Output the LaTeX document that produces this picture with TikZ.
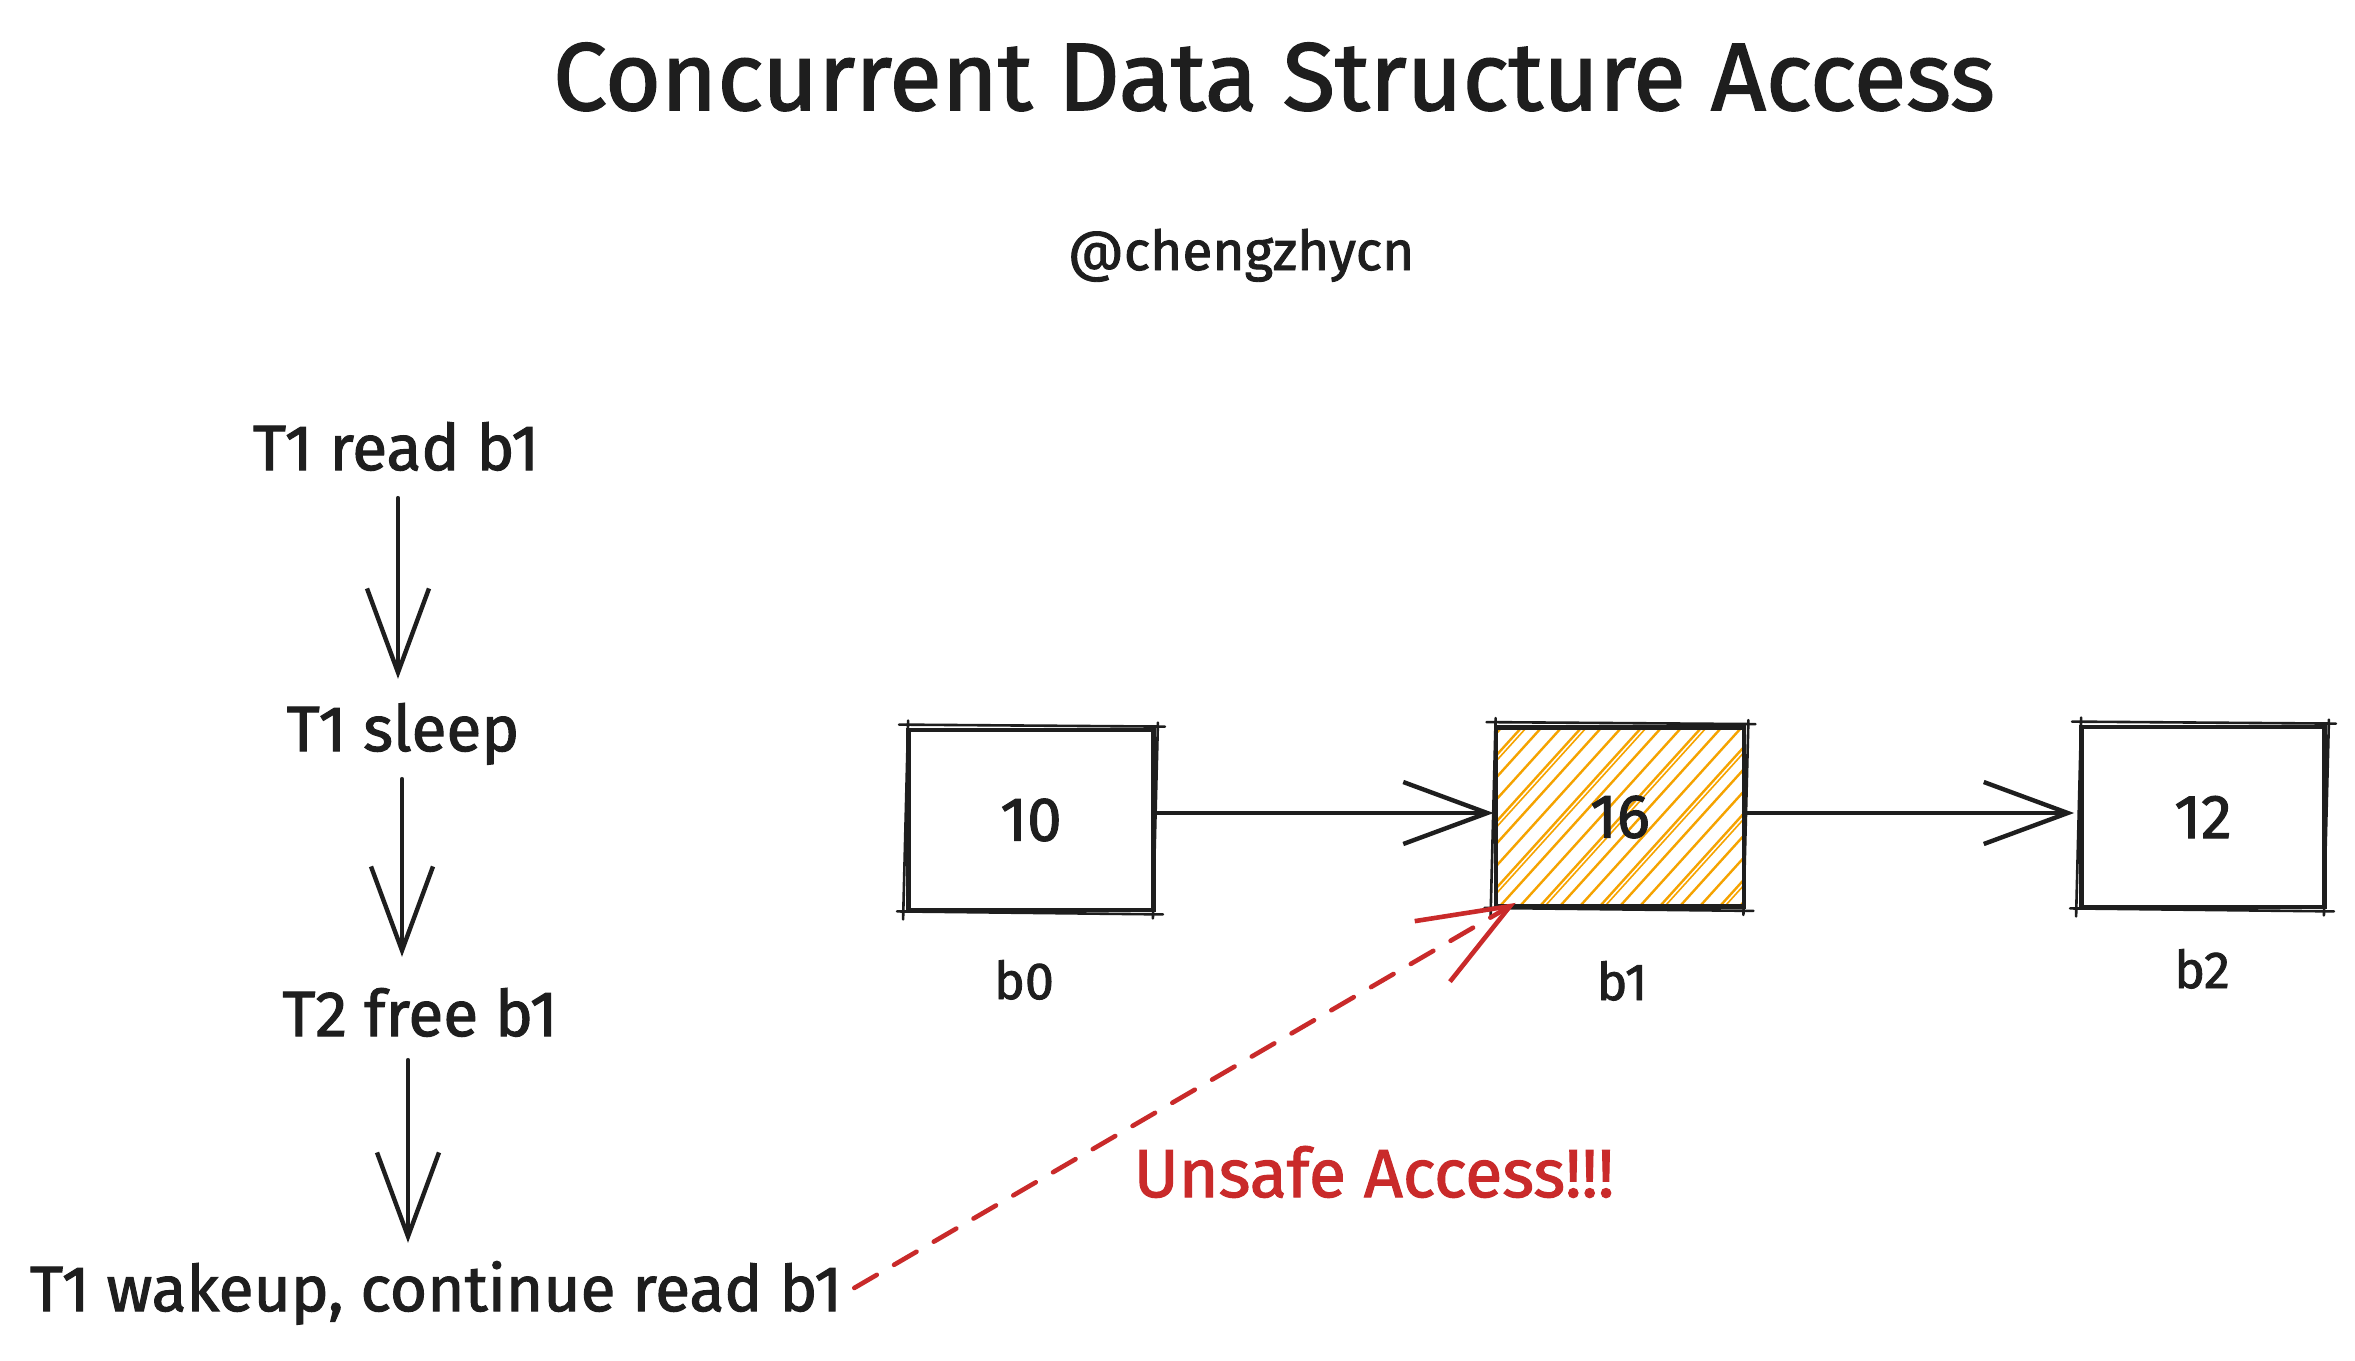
\documentclass[tikz,border=0pt]{standalone}
\usepackage{fontspec}
\setmainfont{Fira Sans}[FakeBold=1.6]
\usetikzlibrary{arrows.meta}
\definecolor{ink}{HTML}{1E1E1E}
\definecolor{inkred}{HTML}{C92A2A}
\definecolor{hatchorange}{HTML}{F5A300}

% extra loose strokes around a box, for a hand-drawn look
\newcommand\roughbox[1]{%
  \draw[rough] ([shift={(-7,-3)}]#1.north west) -- ([shift={(9,-1)}]#1.north east);
  \draw[rough] ([shift={(2,-5)}]#1.north east) -- ([shift={(-3,6)}]#1.south east);
  \draw[rough] ([shift={(7,2)}]#1.south east) -- ([shift={(-9,-1)}]#1.south west);
  \draw[rough] ([shift={(-3,7)}]#1.south west) -- ([shift={(2,-7)}]#1.north west);
}

\begin{document}
\begin{tikzpicture}[x=1pt,y=-1pt,
  every node/.style={text=ink},
  titletxt/.style={inner sep=0pt, anchor=base, font=\fontsize{96}{110}\selectfont},
  handle/.style={inner sep=0pt, anchor=base, font=\fontsize{55}{66}\selectfont},
  steptxt/.style={inner sep=0pt, anchor=base, text height=46pt, text depth=14pt,
    font=\fontsize{64}{74}\selectfont},
  cell/.style={draw=ink, line width=4.8pt, minimum width=245pt, minimum height=180pt,
    inner sep=0pt, font=\fontsize{62}{72}\selectfont},
  celllabel/.style={inner sep=0pt, anchor=base, font=\fontsize{52}{60}\selectfont},
  rough/.style={draw=ink, line width=2.6pt, line cap=round},
  flow/.style={draw=ink, line width=4.6pt, line cap=round,
    -{Straight Barb[length=84pt,width=62pt,line width=4.4pt]}},
  hatchln/.style={draw=hatchorange, line width=2.4pt},
  warn/.style={draw=inkred, line width=4.6pt, line cap=round, dash pattern=on 26pt off 20pt,
    -{Straight Barb[length=90pt,width=70pt,line width=4.6pt]}},
]
\useasboundingbox (0,0) rectangle (2355,1360);
\fill[white] (0,0) rectangle (2355,1360);

% heading
\node[titletxt] (title) at (1274,110) {Concurrent Data Structure Access};
\node[handle] (author) at (1241,270) {@chengzhycn};

% timeline of the two threads
\node[steptxt] (s1) at (396,470)  {T1 read b1};
\node[steptxt] (s2) at (403,751)  {T1 sleep};
\node[steptxt] (s3) at (420,1036) {T2 free b1};
\node[steptxt] (s4) at (436,1311) {T1 wakeup, continue read b1};

\draw[flow, shorten <=14pt, shorten >=26pt]
  ([xshift=2pt]s1.south) -- ([xshift=2pt]s1.south |- s2.north);
\draw[flow, shorten <=14pt, shorten >=33pt]
  ([xshift=-1pt]s2.south) -- ([xshift=-1pt]s2.south |- s3.north);
\draw[flow, shorten <=10pt, shorten >=22pt]
  ([xshift=-12pt]s3.south) -- ([xshift=-12pt]s3.south |- s4.north);

% linked list
\node[cell] (b0) at (1031,820) {10};
\node[cell, minimum width=248pt, minimum height=179pt,
  path picture={
    \foreach \i in {-10,...,13} {
      \draw[hatchln] ([shift={(\i*20,4)}]path picture bounding box.south west) -- ++(170,-188);
    }
    \foreach \i in {-10,-7,...,13} {
      \draw[hatchln, line width=1.6pt] ([shift={(\i*20+5,4)}]path picture bounding box.south west) -- ++(170,-188);
    }
  }] (b1) at (1620,817) {16};
\node[cell, minimum width=243pt] (b2) at (2203,817) {12};

\roughbox{b0}
\roughbox{b1}
\roughbox{b2}

\node[celllabel] (l0) at (1024,999)  {b0};
\node[celllabel] (l1) at (1622,1000) {b1};
\node[celllabel] (l2) at (2202,988)  {b2};

\draw[flow] (b0.east |- 0,813) -- (b1.west |- 0,813);
\draw[flow, shorten >=5pt] (b1.east |- 0,813) -- (b2.west |- 0,813);

% the use-after-free
\draw[warn, shorten <=14pt] (s4.east) -- ([shift={(22,-6)}]b1.south west);
\node[inner sep=0pt, anchor=base, text=inkred, font=\fontsize{68}{78}\selectfont]
  (unsafe) at (1374,1197) {Unsafe Access!!!};
\end{tikzpicture}
\end{document}
